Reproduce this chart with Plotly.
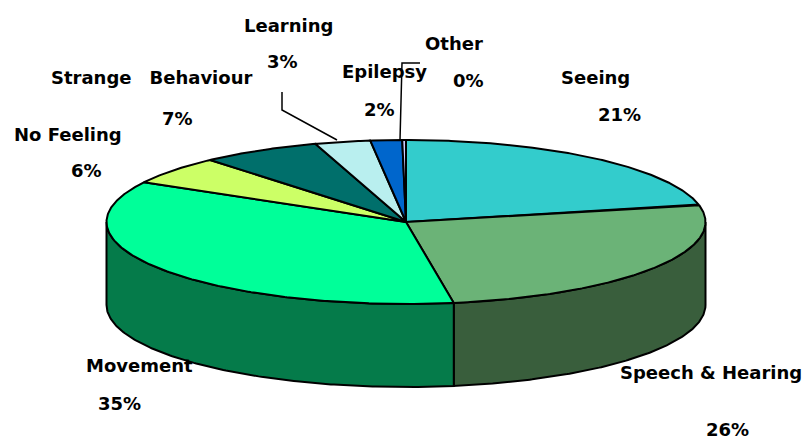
import numpy as np
import plotly.graph_objects as go

categories = ["Seeing", "Speech & Hearing", "Movement", "No Feeling",
              "Strange Behaviour", "Learning", "Epilepsy", "Other"]
shares = [21.6, 25.85, 35.6, 5.6, 6.45, 3.0, 1.7, 0.2]
percent_labels = ["21%", "26%", "35%", "6%", "7%", "3%", "2%", "0%"]
top_colors = ["#33CCCC", "#6BB377", "#00FF99", "#CCFF66",
              "#006F6B", "#B9EFEF", "#0066CC", "#CCCCFF"]
side_colors = ["#1F7A7A", "#395E3C", "#057B4A", "#7A993D",
               "#004340", "#6F8F8F", "#003D7A", "#7A7A99"]

CX, CY, RX, RY, DEPTH = 406.0, 222.0, 299.5, 82.0, 83.0
FONT = dict(family="'DejaVu Sans', sans-serif", size=18, color="#000000")
EDGE = dict(color="#000000", width=2)


def ell(t):
    return CX + RX * np.sin(t), CY - RY * np.cos(t)


total = sum(shares)
edges = np.concatenate([[0.0], np.cumsum(shares)]) / total * 2 * np.pi
fig = go.Figure()

# Side wall: only the front half of the ellipse is visible
for i, cat in enumerate(categories):
    a = max(edges[i], np.pi / 2)
    b = min(edges[i + 1], 3 * np.pi / 2)
    if b <= a:
        continue
    t = np.linspace(a, b, 160)
    x, y = ell(t)
    fig.add_trace(go.Scatter(
        x=np.concatenate([x, x[::-1], x[:1]]),
        y=np.concatenate([y, y[::-1] + DEPTH, y[:1]]),
        mode="lines", fill="toself", fillcolor=side_colors[i], line=EDGE,
        hoverinfo="skip", showlegend=False))

# Top face wedges
for i, cat in enumerate(categories):
    t = np.linspace(edges[i], edges[i + 1], max(8, int(shares[i] * 8)))
    x, y = ell(t)
    fig.add_trace(go.Scatter(
        x=np.concatenate([[CX], x, [CX]]),
        y=np.concatenate([[CY], y, [CY]]),
        mode="lines", fill="toself", fillcolor=top_colors[i], line=EDGE,
        name=cat, text=cat, hoverinfo="text", showlegend=False))

# Leader lines
for lx, ly in [([282, 282, 337], [92, 110, 140]), ([420, 402, 400], [63, 63, 140])]:
    fig.add_trace(go.Scatter(x=lx, y=ly, mode="lines", line=dict(color="#000000", width=1.5),
                             hoverinfo="skip", showlegend=False))

name_pos = [(595, 77), (711, 372), (139, 365), (68, 134), (151, 77), (288, 25), (384, 71), (454, 43)]
pct_pos = [(619, 114), (727, 429), (119, 403), (86, 170), (177, 118), (282, 61), (379, 109), (468, 80)]
for i, cat in enumerate(categories):
    txt = cat.replace("Strange Behaviour", "Strange\u2003Behaviour")
    for s, (px, py) in ((txt, name_pos[i]), (percent_labels[i], pct_pos[i])):
        fig.add_annotation(x=px, y=py, text="<b>%s</b>" % s, showarrow=False,
                           font=FONT, xanchor="center", yanchor="middle")

fig.update_layout(
    width=806, height=439, margin=dict(l=0, r=0, t=0, b=0),
    paper_bgcolor="#FFFFFF", plot_bgcolor="#FFFFFF",
    xaxis=dict(range=[0, 806], visible=False, fixedrange=True),
    yaxis=dict(range=[439, 0], visible=False, fixedrange=True),
)
fig.write_html("out.html", config={"displayModeBar": False},
               post_script="document.body.style.margin='0';document.documentElement.style.overflow='hidden';")
